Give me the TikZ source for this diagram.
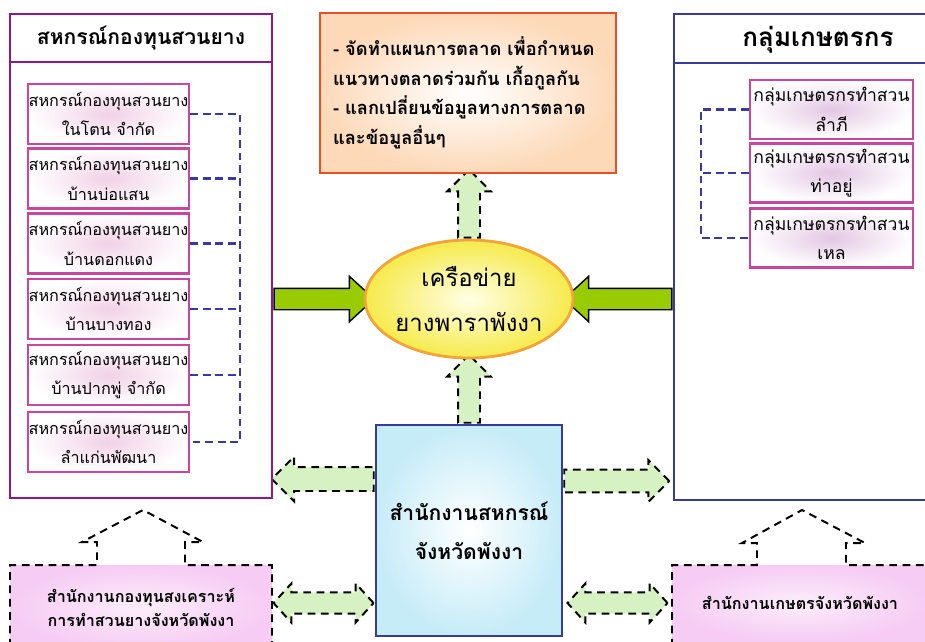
\documentclass[tikz,border=0pt]{standalone}
\usepackage{fontspec}
\newfontfamily\thaifont[Script=Thai]{Loma}
\usepackage{tikz}
\usetikzlibrary{shapes.geometric,shapes.arrows,backgrounds,calc}
\definecolor{grape}{HTML}{8B1A8B}
\definecolor{navy}{HTML}{3A3A9C}
\definecolor{rose}{HTML}{C8469B}
\definecolor{brick}{HTML}{E4502A}
\definecolor{leaf}{HTML}{99CC00}
\definecolor{mint}{HTML}{D6F2C2}
\definecolor{sky}{HTML}{C6ECF8}
\definecolor{lilac}{HTML}{F6CCF4}
\definecolor{peach}{HTML}{FDD9B8}
\definecolor{sun}{HTML}{F6EA4A}
\definecolor{amber}{HTML}{F2A33A}
\def\px{0.025cm}
\tikzset{
  bigbox/.style={rectangle,line width=2pt,fill=white,inner sep=0pt},
  headtext/.style={font=\thaifont\bfseries\fontsize{15}{18}\selectfont},
  cell/.style={rectangle,line width=1.6pt,outer color=white,align=center,inner sep=0pt,
    font=\thaifont\fontsize{11.5}{21}\selectfont},
  coopcell/.style={cell,draw=rose,inner color=rose!25,minimum width=161*\px,minimum height=60*\px},
  farmcell/.style={cell,draw=rose,inner color=violet!22,minimum width=163*\px,minimum height=59*\px,
    font=\thaifont\fontsize{12.5}{21}\selectfont},
  bus/.style={navy,line width=1.5pt,dash pattern=on 5.5pt off 3.5pt},
  planbox/.style={rectangle,draw=brick,line width=2pt,inner color=white,outer color=peach,
    minimum width=296*\px,minimum height=160*\px,text width=270*\px,align=left,
    font=\thaifont\bfseries\fontsize{13}{21}\selectfont},
  netshape/.style={ellipse,draw=amber,line width=2pt,inner color=yellow!10,outer color=sun,
    minimum width=194*\px,minimum height=118*\px,inner sep=0pt,align=center,
    font=\thaifont\fontsize{17}{32}\selectfont},
  officebox/.style={rectangle,draw=navy,line width=1.8pt,inner color=white,outer color=sky,
    minimum width=186*\px,minimum height=211*\px,align=center,
    font=\thaifont\bfseries\fontsize{15}{28}\selectfont},
  fundfill/.style={rectangle,inner color=lilac!35,outer color=lilac,inner sep=0pt,align=center,
    font=\thaifont\bfseries\fontsize{11.5}{17}\selectfont},
  outline/.style={line width=1.4pt,dash pattern=on 5.5pt off 4pt},
  pusharrow/.style={single arrow,draw=black,fill=leaf,line width=1pt,inner sep=0.25cm,
    single arrow head extend=0.3cm,single arrow tip angle=85,anchor=tail},
  swaparrow/.style={single arrow,draw=black,fill=mint,outline,inner sep=0.25cm,
    single arrow head extend=0.27cm,anchor=tail},
  twoway/.style={double arrow,draw=black,fill=mint,outline,inner sep=0.24cm,
    double arrow head extend=0.225cm,double arrow tip angle=95,minimum height=2.5cm}
}

\begin{document}
\begin{tikzpicture}[x=0.025cm,y=-0.025cm]
%\draw[help lines,step=20] (0,0) grid (925,641);
\useasboundingbox (0,0) rectangle (925,641);
\clip (0,0) rectangle (925,641);

% cooperatives
\node[bigbox,draw=grape,minimum width=262*\px,minimum height=484*\px] (coopbox) at (141,256) {};
\draw[grape,line width=2pt] (10,62)--(272,62);
\node[headtext] (cooptitle) at (141,38) {สหกรณ์กองทุนสวนยาง};
\node[coopcell] (c1) at (108.5,114) {สหกรณ์กองทุนสวนยาง\\ในโตน จำกัด};
\node[coopcell] (c2) at (108.5,178.5) {สหกรณ์กองทุนสวนยาง\\บ้านบ่อแสน};
\node[coopcell] (c3) at (108.5,243.5) {สหกรณ์กองทุนสวนยาง\\บ้านดอกแดง};
\node[coopcell] (c4) at (108.5,309) {สหกรณ์กองทุนสวนยาง\\บ้านบางทอง};
\node[coopcell] (c5) at (108.5,375) {สหกรณ์กองทุนสวนยาง\\บ้านปากพู่ จำกัด};
\node[coopcell] (c6) at (108.5,442) {สหกรณ์กองทุนสวนยาง\\ลำแก่นพัฒนา};
\coordinate (lbus) at (240,0);
\draw[bus] (c1.east)--(c1.east -| lbus)--(c6.east -| lbus)--(c6.east);
\draw[bus] (c2.east)--(c2.east -| lbus);
\draw[bus] (c3.east)--(c3.east -| lbus);
\draw[bus] (c4.east)--(c4.east -| lbus);
\draw[bus] (c5.east)--(c5.east -| lbus);

% farmer groups
\node[bigbox,draw=navy,minimum width=288*\px,minimum height=486*\px] (farmbox) at (818,257) {};
\draw[navy,line width=2pt] (674,63)--(925,63);
\node[headtext,font=\thaifont\bfseries\fontsize{18.5}{20}\selectfont] (farmtitle) at (818,40) {กลุ่มเกษตรกร};
\node[farmcell] (f1) at (831.5,109.5) {กลุ่มเกษตรกรทำสวน\\ลำภี};
\node[farmcell] (f2) at (831.5,173) {กลุ่มเกษตรกรทำสวน\\ท่าอยู่};
\node[farmcell] (f3) at (831.5,238) {กลุ่มเกษตรกรทำสวน\\เหล};
\coordinate (rbus) at (701,0);
\draw[bus] (f1.west)--(f1.west -| rbus)--(f3.west -| rbus)--(f3.west);
\draw[bus] (f2.west)--(f2.west -| rbus);

% plan, network, office
\node[planbox] (plan) at (468,93) {- จัดทำแผนการตลาด เพื่อกำหนด\\แนวทางตลาดร่วมกัน เกื้อกูลกัน\\- แลกเปลี่ยนข้อมูลทางการตลาด\\และข้อมูลอื่นๆ};
\node[netshape] (net) at (469,299) {เครือข่าย\\ยางพาราพังงา};
\node[officebox] (office) at (469,530.5) {สำนักงานสหกรณ์\\จังหวัดพังงา};

% bottom offices
\node[fundfill,minimum width=262*\px,minimum height=84*\px] (fund) at (141,607) {สำนักงานกองทุนสงเคราะห์\\การทำสวนยางจังหวัดพังงา};
\draw[outline] (10,660)--(10,565)--(97,565)--(97,542)--(82,542)--(143,510)--(203,542)--(185,542)--(185,565)--(272,565)--(272,660);
\node[fundfill,minimum width=256*\px,minimum height=76*\px] (agri) at (800,603) {สำนักงานเกษตรจังหวัดพังงา};
\draw[outline] (672,660)--(672,565)--(757,565)--(757,543)--(742,543)--(802,510)--(865,543)--(846,543)--(846,565)--(940,565);

\begin{scope}[on background layer]
\node[pusharrow,minimum height=2.5cm] (pushl) at (coopbox.east |- net) {};
\node[pusharrow,minimum height=2.7cm,shape border rotate=180] (pushr) at (farmbox.west |- net) {};
\node[swaparrow,minimum height=1.7cm,shape border rotate=90] (up1) at (net.north) {};
\node[swaparrow,minimum height=1.7cm,shape border rotate=90] (up2) at (office.north) {};
\node[swaparrow,minimum height=2.55cm,shape border rotate=180,inner sep=0.275cm,single arrow head extend=0.26cm] (toleft) at (office.west |- 0,479) {};
\node[swaparrow,minimum height=2.625cm,inner sep=0.26cm,single arrow head extend=0.24cm] (toright) at (office.east |- 0,481) {};
\end{scope}
\node[twoway] (swapl) at ($(fund.east |- 0,603)!0.5!(office.west |- 0,603)$) {};
\node[twoway] (swapr) at ($(office.east |- 0,603)!0.5!(agri.west |- 0,603)$) {};
\end{tikzpicture}
\end{document}
